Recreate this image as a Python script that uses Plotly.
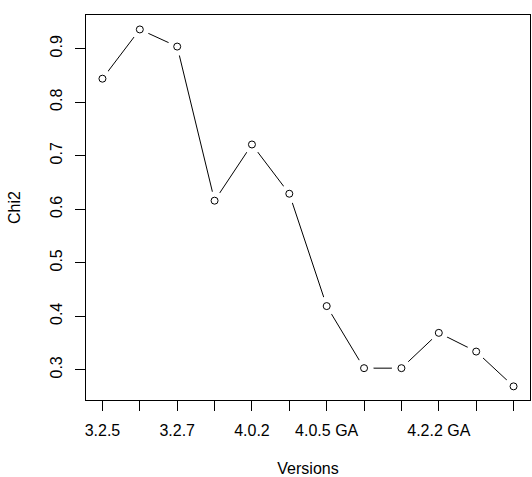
import plotly.graph_objects as go

positions = list(range(1, 13))
tick_labels = ["3.2.5", "", "3.2.7", "", "4.0.2", "", "4.0.5 GA", "", "", "4.2.2 GA", "", ""]
chi2 = [0.844, 0.936, 0.904, 0.616, 0.721, 0.629, 0.419, 0.303, 0.303, 0.369, 0.334, 0.269]
y_ticks = [0.3, 0.4, 0.5, 0.6, 0.7, 0.8, 0.9]

font = dict(family="Liberation Sans, Arial, sans-serif", size=16, color="black")

fig = go.Figure()
fig.add_trace(go.Scatter(x=positions, y=chi2, mode="lines",
                         line=dict(color="black", width=1), hoverinfo="skip"))
fig.add_trace(go.Scatter(x=positions, y=chi2, mode="markers",
                         marker=dict(symbol="circle", size=19, color="white", line=dict(width=0)),
                         hoverinfo="skip"))
fig.add_trace(go.Scatter(x=positions, y=chi2, mode="markers",
                         marker=dict(symbol="circle-open", size=7, color="black", line=dict(width=1, color="black"))))

fig.update_layout(
    width=532, height=477,
    margin=dict(l=86, r=1, t=15, b=75),
    paper_bgcolor="white", plot_bgcolor="white",
    showlegend=False, font=font,
)
fig.update_xaxes(
    range=[0.56, 12.44], tickmode="array", tickvals=positions, ticktext=tick_labels,
    showgrid=False, zeroline=False, showline=True, mirror=True, linecolor="black", linewidth=1,
    ticks="outside", ticklen=10, tickcolor="black", tickwidth=1,
    title=dict(text="Versions", font=font, standoff=26), tickfont=font, ticklabelstandoff=6,
)
fig.update_yaxes(
    range=[0.2435, 0.963], tickmode="array", tickvals=y_ticks, ticktext=[str(v) for v in y_ticks],
    showgrid=False, zeroline=False, showline=True, mirror=True, linecolor="black", linewidth=1,
    ticks="outside", ticklen=10, tickcolor="black", tickwidth=1, tickangle=-90,
    title=dict(text="Chi2", font=font, standoff=22), tickfont=font, ticklabelstandoff=7,
)

fig.write_html("out.html")
